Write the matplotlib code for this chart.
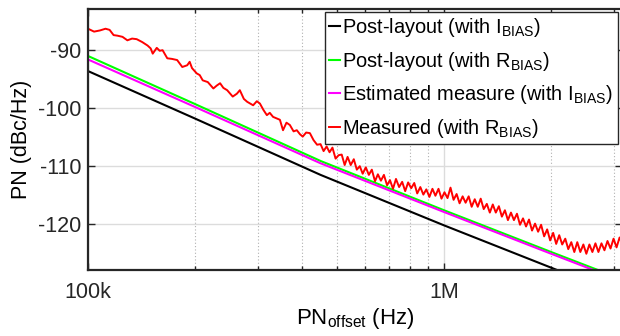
import numpy as np
import matplotlib
matplotlib.use('Agg')
import matplotlib.pyplot as plt
from matplotlib.ticker import FixedLocator, NullFormatter, FuncFormatter, LogLocator

plt.rcParams['font.family'] = ['Liberation Sans', 'DejaVu Sans']
plt.rcParams['mathtext.fontset'] = 'custom'
plt.rcParams['mathtext.rm'] = 'Liberation Sans'
plt.rcParams['axes.unicode_minus'] = False

# simulated curves: PN (dBc/Hz) at a few offset frequencies (Hz)
sim_freq = [1e5, 2e5, 4.5e5, 1e6, 2e6, 10 ** 6.5]
pn_post_ibias = [-93.7, -101.9, -111.6, -120.3, -127.6, -132.4]
pn_post_rbias = [-91.1, -99.4, -109.2, -117.7, -124.9, -129.6]
pn_est_ibias = [-91.7, -99.9, -109.6, -118.0, -125.2, -129.9]

# measured curve (with R_BIAS), offset frequency in kHz
meas_freq_khz = [
    100, 104, 108, 112, 115, 118, 121, 125, 129, 133, 137, 142, 147, 150, 152, 156,
    159, 162, 167, 172, 178, 184, 190, 193, 196, 202, 206, 210, 217, 225, 230, 235,
    240, 246, 255, 262, 267, 274, 280, 291, 298, 304, 311, 318, 324, 331, 346, 353,
    361, 369, 378, 386, 394, 401, 410, 420, 430, 440,
    450, 459, 468, 477, 486, 496, 506, 516, 526, 536, 547, 558, 569, 580, 591, 603,
    615, 627, 640, 652, 665, 678, 692, 705, 719, 733, 748, 763, 778, 793, 809, 825,
    841, 858, 875, 892, 910, 928, 946, 965, 984, 1003, 1023, 1043, 1064, 1085, 1106,
    1128, 1150, 1173, 1196, 1220, 1244, 1268, 1293, 1319, 1345, 1371, 1398, 1426,
    1454, 1483, 1512, 1542, 1572, 1603, 1635, 1667, 1700, 1733, 1767, 1802, 1838,
    1874, 1911, 1949, 1987, 2026, 2066, 2107, 2148, 2191, 2234, 2278, 2323, 2368,
    2415, 2463, 2511, 2561, 2611, 2663, 2715, 2769, 2823, 2879, 2936, 2994, 3053,
    3113, 3174,
]
meas_pn = [
    -86.4, -86.9, -86.7, -86.4, -86.6, -87.5, -87.6, -87.8, -88.4, -88.1, -88.2, -88.7,
    -89.3, -89.8, -90.7, -89.7, -90.2, -90.1, -91.5, -91.6, -91.8, -93.0, -92.7, -92.1,
    -93.2, -94.1, -94.4, -95.3, -95.6, -96.7, -96.2, -95.8, -96.6, -97.0, -98.1, -97.6,
    -97.0, -98.5, -99.0, -99.6, -98.9, -99.3, -100.4, -101.3, -100.9, -101.6, -102.1,
    -103.9, -102.6, -103.0, -104.1, -103.9, -104.6, -105.0, -104.3, -104.4, -105.6, -106.4,
    -106.3, -107.5, -106.7, -107.7, -106.9, -108.8, -108.2, -108.1, -109.9, -108.5,
    -109.9, -108.9, -110.7, -110.1, -111.4, -110.3, -111.6, -110.7, -112.7, -111.5,
    -112.6, -111.6, -113.4, -112.5, -114.0, -112.3, -113.7, -112.8, -114.4, -112.9,
    -113.9, -113.0, -114.8, -113.7, -115.0, -114.1, -115.4, -114.0, -115.2, -114.0,
    -115.7, -114.6, -115.6, -113.8, -115.9, -114.9, -116.5, -115.3, -116.4, -115.3,
    -117.1, -115.8, -117.1, -115.7, -117.5, -116.6, -118.1, -116.7, -118.1, -117.0,
    -118.8, -117.7, -119.4, -118.1, -119.4, -118.3, -120.2, -119.1, -120.5, -119.3,
    -121.2, -120.0, -121.4, -120.2, -122.2, -121.0, -122.9, -121.6, -123.5, -122.0,
    -123.6, -122.6, -124.4, -123.2, -124.9, -123.2, -124.9, -123.6, -125.2, -123.6,
    -124.9, -123.4, -124.9, -123.4, -124.6, -123.0, -124.3, -122.6, -124.1, -122.4,
    -123.6,
]

labels = [
    r'Post-layout (with I$_{\mathrm{BIAS}}$)',
    r'Post-layout (with R$_{\mathrm{BIAS}}$)',
    r'Estimated measure (with I$_{\mathrm{BIAS}}$)',
    r'Measured (with R$_{\mathrm{BIAS}}$)',
]

fig = plt.figure(figsize=(6.2, 3.36), dpi=100)
ax = fig.add_axes([88 / 620, 66 / 336, 534 / 620, 261 / 336])

ax.semilogx(sim_freq, pn_post_ibias, color='black', lw=1.5, label=labels[0])
ax.semilogx(sim_freq, pn_post_rbias, color='#00ff00', lw=1.5, label=labels[1])
ax.semilogx(sim_freq, pn_est_ibias, color='#ff00ff', lw=1.5, label=labels[2])
ax.semilogx(np.array(meas_freq_khz) * 1e3, meas_pn, color='#ff0000', lw=1.4, label=labels[3])

ax.set_xlim(1e5, 10 ** 6.5)
ax.set_ylim(-128, -83)

ax.xaxis.set_major_locator(FixedLocator([1e5, 1e6]))
ax.xaxis.set_major_formatter(FuncFormatter(lambda v, p: {1e5: '100k', 1e6: '1M'}.get(v, '')))
ax.xaxis.set_minor_locator(LogLocator(base=10, subs=np.arange(2, 10), numticks=20))
ax.xaxis.set_minor_formatter(NullFormatter())
ax.set_yticks([-120, -110, -100, -90])

ax.grid(True, which='major', color='#dcdcdc', lw=1.0, ls='-')
ax.grid(True, which='minor', axis='x', color='#b0b0b0', lw=0.8, ls=(0, (1, 2)))
ax.set_axisbelow(True)

ax.tick_params(which='both', direction='in', top=True, right=True, colors='#262626',
               labelsize=15.5, width=1.0)
ax.tick_params(which='major', length=5)
ax.tick_params(which='minor', length=3)
ax.tick_params(axis='x', pad=9)
ax.tick_params(axis='y', pad=5)
for s in ax.spines.values():
    s.set_linewidth(1.6)
    s.set_color('#262626')

ax.set_ylabel('PN (dBc/Hz)', fontsize=15.5, labelpad=4)
ax.set_xlabel(r'PN$_{\mathrm{offset}}$ (Hz)', fontsize=16, labelpad=2)

leg = ax.legend(loc='upper right', bbox_to_anchor=(618 / 620, 324 / 336),
                bbox_transform=fig.transFigure, fontsize=14.4, fancybox=False,
                framealpha=1, edgecolor='#262626', handlelength=0.55,
                handletextpad=0.1, labelspacing=0.52, borderpad=0.22,
                borderaxespad=0)
leg.get_frame().set_linewidth(1.0)

fig.savefig('out.png', dpi=100)
